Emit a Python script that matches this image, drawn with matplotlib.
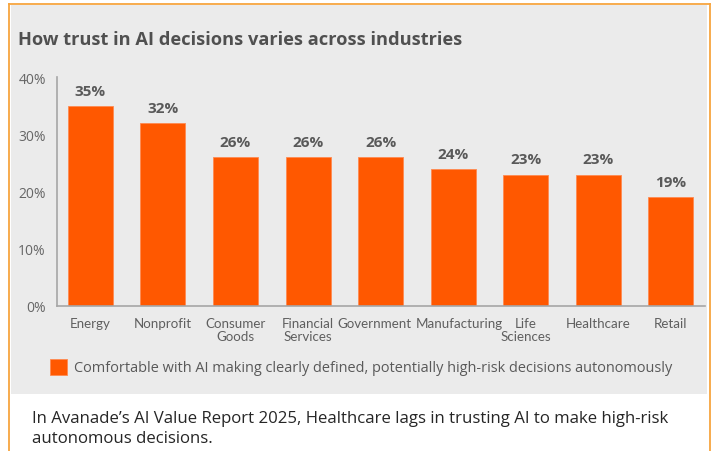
import matplotlib
matplotlib.use("Agg")
import matplotlib.pyplot as plt
import matplotlib.transforms as mtransforms
from matplotlib.patches import Rectangle
from matplotlib.lines import Line2D

categories = ["Energy", "Nonprofit", "Consumer\nGoods", "Financial\nServices", "Government",
              "Manufacturing", "Life\nSciences", "Healthcare", "Retail"]
values = [35, 32, 26, 26, 26, 24, 23, 23, 19]
yticks = [0, 10, 20, 30, 40]
ytick_labels = ["0%", "10%", "20%", "30%", "40%"]
title = "How trust in AI decisions varies across industries"
legend_label = "Comfortable with AI making clearly defined, potentially high-risk decisions autonomously"
caption = ("In Avanade\u2019s AI Value Report 2025, Healthcare lags in trusting AI to make high-risk\n"
           "autonomous decisions.")

W, H = 716, 452
plt.rcParams['font.family'] = ['Open Sans', 'DejaVu Sans']
fig = plt.figure(figsize=(W / 100, H / 100), dpi=100, facecolor="white")

def fx(px):
    return px / W

def fy(py):
    return 1 - py / H

BAR = "#FF5800"
GRAY_BG = "#EBEBEB"
TXT = "#595959"
BORDER = "#F7A53F"

# gray panel
fig.patches.append(Rectangle((fx(11), fy(395)), fx(707) - fx(11), fy(6) - fy(395),
                             transform=fig.transFigure, facecolor=GRAY_BG, edgecolor="none", zorder=-5))
# orange border (top, left, right)
for xs, ys in [((9, 710), (5, 5)), ((9, 9), (5, 452)), ((710, 710), (5, 452))]:
    fig.lines.append(Line2D([fx(x) for x in xs], [fy(y) for y in ys], transform=fig.transFigure,
                            color=BORDER, linewidth=1.3, zorder=-4))

fig.text(fx(18), fy(40), title, fontsize=13.15, fontweight="bold", color="#505050",
         ha="left", va="center")

ax = fig.add_axes([fx(57), fy(307), fx(705) - fx(57), fy(78.4) - fy(307)])
ax.set_facecolor("none")
x = list(range(len(categories)))
bars = ax.bar(x, values, width=0.62, color=BAR, edgecolor="#FF8A50", linewidth=0.6, zorder=2)
ax.set_xlim(-0.46, 8.47)
ax.set_ylim(0, 40)
ax.set_yticks(yticks)
ax.set_yticklabels(ytick_labels, fontsize=10, color="#666666")
ax.set_xticks(x)
ax.set_xticklabels(categories, fontsize=9.6, color="#5F5F5F", linespacing=1.12,
                   family=["Lato", "DejaVu Sans"])
ax.tick_params(axis="both", length=0)
ax.tick_params(axis="x", pad=8)
ax.tick_params(axis="y", pad=8)
for s in ["top", "right"]:
    ax.spines[s].set_visible(False)
for s in ["left", "bottom"]:
    ax.spines[s].set_color("#A6A6A6")
    ax.spines[s].set_linewidth(1.2)

# nudge the two crowded labels apart, as in the reference
shifts = {"Government": -6, "Manufacturing": 6}
for lbl in ax.get_xticklabels():
    dx = shifts.get(lbl.get_text(), 0)
    if dx:
        lbl.set_transform(lbl.get_transform() +
                          mtransforms.ScaledTranslation(dx / 100, 0, fig.dpi_scale_trans))

for xi, v in zip(x, values):
    ax.annotate(f"{v}%", (xi, v), xytext=(0, 6), textcoords="offset points",
                ha="center", va="bottom", fontsize=11, fontweight="bold", color=TXT)

# legend
fig.patches.append(Rectangle((fx(50), fy(376)), fx(67) - fx(50), fy(360) - fy(376),
                             transform=fig.transFigure, facecolor=BAR, edgecolor="#FF8A50",
                             linewidth=0.6, zorder=2))
fig.text(fx(74), fy(368), legend_label, fontsize=10.45, color=TXT, ha="left", va="center")

fig.text(fx(32), fy(429), caption, fontsize=12.1, color="#262626", ha="left", va="center",
         linespacing=1.3)

fig.savefig("out.png", dpi=100, facecolor="white")
